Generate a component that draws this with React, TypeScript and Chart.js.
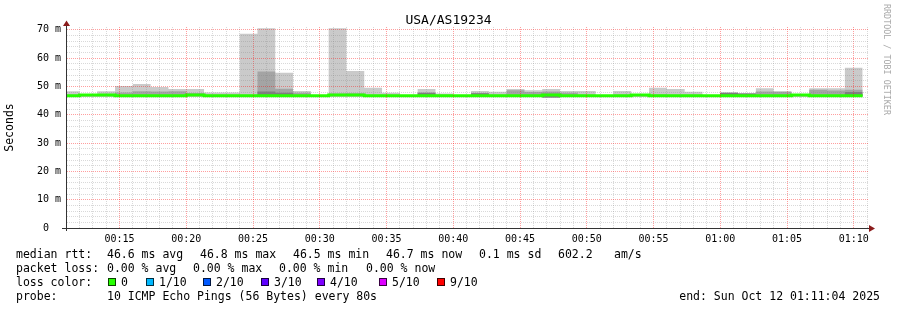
import React, { useEffect, useRef } from "react";
import { Chart, registerables } from "chart.js";

Chart.register(...registerables);

// ---------- data ----------
const titleText = "USA/AS19234";
const yAxisTitle = "Seconds";
const watermark = "RRDTOOL / TOBI OETIKER";

const axisStart = "00:11:04";
const axisEnd = "01:11:04";

// start time of every 80 s bin
const binStarts = [
  "00:10:40", "00:12:00", "00:13:20", "00:14:40", "00:16:00", "00:17:20", "00:18:40", "00:20:00", "00:21:20", "00:22:40",
  "00:24:00", "00:25:20", "00:26:40", "00:28:00", "00:29:20", "00:30:40", "00:32:00", "00:33:20", "00:34:40", "00:36:00",
  "00:37:20", "00:38:40", "00:40:00", "00:41:20", "00:42:40", "00:44:00", "00:45:20", "00:46:40", "00:48:00", "00:49:20",
  "00:50:40", "00:52:00", "00:53:20", "00:54:40", "00:56:00", "00:57:20", "00:58:40", "01:00:00", "01:01:20", "01:02:40",
  "01:04:00", "01:05:20", "01:06:40", "01:08:00", "01:09:20",
];
const lastBinEnd = "01:10:40";

// median rtt (ms)
const medianRtt = [
  46.75, 46.95, 46.95, 46.75, 46.75, 46.75, 46.75, 46.95, 46.75, 46.75,
  46.75, 46.75, 46.75, 46.75, 46.7, 46.95, 46.95, 46.75, 46.75, 46.7,
  46.75, 46.75, 46.7, 46.75, 46.75, 46.75, 46.75, 46.95, 46.75, 46.75,
  46.7, 46.75, 46.95, 46.75, 46.75, 46.75, 46.7, 46.75, 46.75, 46.75,
  46.75, 46.95, 46.75, 46.75, 46.75,
];
// lowest ping (ms)
const smokeMin = [
  46.5, 46.5, 46.5, 46.5, 46.5, 46.5, 46.5, 46.5, 46.5, 46.5,
  46.5, 46.5, 46.5, 46.5, 46.5, 46.5, 46.5, 46.5, 46.5, 46.5,
  46.5, 46.5, 46.5, 46.5, 46.5, 46.5, 46.5, 46.1, 46.5, 46.5,
  46.5, 46.5, 46.5, 46.5, 46.5, 46.5, 46.5, 46.5, 46.5, 46.5,
  46.5, 46.5, 46.5, 46.5, 46.5,
];
// highest ping (ms) - outer smoke
const smokeMax = [
  48.3, 47.3, 48.3, 50.2, 50.9, 49.8, 49.1, 49.1, 47.9, 47.9,
  68.6, 70.6, 54.8, 48.4, 46.9, 70.6, 55.5, 49.5, 47.8, 46.9,
  49.1, 47.5, 46.9, 48.4, 48.1, 49.1, 48.7, 49.1, 48.4, 48.4,
  46.9, 48.4, 47.0, 49.5, 49.1, 48.1, 46.9, 47.8, 47.5, 49.4,
  48.4, 47.0, 49.4, 49.4, 56.6,
];
// second band upper edge (ms)
const smokeMid = [
  47.1, 47.0, 47.1, 47.9, 48.3, 48.2, 48.3, 47.7, 47.1, 47.1,
  47.1, 55.3, 49.2, 47.8, 46.8, 47.5, 47.6, 47.1, 47.1, 46.8,
  47.8, 47.1, 46.8, 47.6, 47.1, 48.7, 48.0, 48.2, 47.8, 47.1,
  46.8, 47.1, 46.9, 47.2, 47.1, 47.1, 46.8, 47.8, 47.5, 48.2,
  48.0, 46.9, 48.8, 48.6, 48.8,
];
// third band upper edge (ms)
const smokeInner = [
  46.9, 46.9, 46.9, 46.9, 46.9, 46.9, 46.9, 46.9, 46.9, 46.9,
  46.9, 48.2, 47.8, 46.9, 46.8, 46.9, 46.9, 46.9, 46.9, 46.8,
  47.8, 46.9, 46.8, 47.6, 46.9, 46.9, 46.9, 47.4, 46.9, 46.9,
  46.8, 46.9, 46.9, 46.9, 46.9, 46.9, 46.8, 47.8, 47.5, 46.9,
  46.9, 46.9, 46.9, 46.9, 48.0,
];

const xTickMinutes = [15, 20, 25, 30, 35, 40, 45, 50, 55, 60, 65, 70];
const xTickLabels = ["00:15", "00:20", "00:25", "00:30", "00:35", "00:40", "00:45", "00:50", "00:55", "01:00", "01:05", "01:10"];
const yTickValues = [0, 10, 20, 30, 40, 50, 60, 70];
const yTickLabels = ["0  ", "10 m", "20 m", "30 m", "40 m", "50 m", "60 m", "70 m"];

const rttLabel = "median rtt:";
const rttStats = ["46.6 ms avg", "46.8 ms max", "46.5 ms min", "46.7 ms now", "0.1 ms sd", "602.2", "am/s"];
const lossLabel = "packet loss:";
const lossStats = ["0.00 % avg", "0.00 % max", "0.00 % min", "0.00 % now"];
const colorLabel = "loss color:";
const lossLabels = ["0", "1/10", "2/10", "3/10", "4/10", "5/10", "9/10"];
const lossColors = ["#26ff00", "#00b8ff", "#0059ff", "#5e00ff", "#7e00ff", "#dd00ff", "#ff0000"];
const probeLabel = "probe:";
const probeText = "10 ICMP Echo Pings (56 Bytes) every 80s";
const endText = "end: Sun Oct 12 01:11:04 2025";

// ---------- helpers ----------
const toMinutes = (s: string) => {
  const [h, m, sec] = s.split(":").map(Number);
  return h * 60 + m + sec / 60;
};

const FONT = "'DejaVu Sans Mono', monospace";
const MAJOR = "rgba(255,0,0,0.38)";
const MINOR = "rgba(128,128,128,0.3)";

const isMultiple = (v: number, step: number) => Math.abs(v / step - Math.round(v / step)) < 1e-6;

const axesPlugin = {
  id: "rrdAxes",
  afterDraw(chart: any) {
    const { ctx, chartArea } = chart;
    const { left, right, top, bottom } = chartArea;
    ctx.save();
    ctx.setLineDash([]);
    ctx.strokeStyle = "#333333";
    ctx.lineWidth = 1;
    ctx.beginPath();
    ctx.moveTo(left - 5, bottom + 0.5);
    ctx.lineTo(right + 2, bottom + 0.5);
    ctx.moveTo(left - 0.5, bottom + 3);
    ctx.lineTo(left - 0.5, top - 1);
    ctx.stroke();
    ctx.fillStyle = "#8b1c1c";
    ctx.beginPath();
    ctx.moveTo(right + 1, bottom - 3);
    ctx.lineTo(right + 7, bottom + 0.5);
    ctx.lineTo(right + 1, bottom + 4);
    ctx.closePath();
    ctx.fill();
    ctx.beginPath();
    ctx.moveTo(left - 4, top - 1);
    ctx.lineTo(left - 0.5, top - 6.5);
    ctx.lineTo(left + 3, top - 1);
    ctx.closePath();
    ctx.fill();
    ctx.restore();
  },
};

export default function App() {
  const canvasRef = useRef<HTMLCanvasElement | null>(null);

  useEffect(() => {
    if (!canvasRef.current) return;
    const xs = binStarts.map(toMinutes);
    const xEnd = toMinutes(lastBinEnd);
    const stepSeries = (vals: number[]) => [
      ...xs.map((x, i) => ({ x, y: vals[i] })),
      { x: xEnd, y: vals[vals.length - 1] },
    ];
    const smokeDs = (vals: number[], color: string, order: number) => ({
      label: "smoke",
      data: stepSeries(vals),
      stepped: "before",
      borderWidth: 0,
      borderColor: "rgba(0,0,0,0)",
      backgroundColor: color,
      pointRadius: 0,
      fill: 4,
      order,
      clip: 0,
    });

    const chart = new Chart(canvasRef.current, {
      type: "line",
      data: {
        datasets: [
          {
            label: "median rtt",
            data: stepSeries(medianRtt),
            stepped: "before",
            borderColor: "#26ff00",
            borderWidth: 3,
            pointRadius: 0,
            fill: false,
            order: 0,
            clip: 0,
          } as any,
          smokeDs(smokeMax, "#cacaca", 3) as any,
          smokeDs(smokeMid, "#a4a4a4", 2) as any,
          smokeDs(smokeInner, "#7e7e7e", 1) as any,
          {
            label: "min",
            data: stepSeries(smokeMin),
            stepped: "before",
            borderWidth: 0,
            borderColor: "rgba(0,0,0,0)",
            pointRadius: 0,
            fill: false,
            order: 4,
            clip: 0,
          } as any,
        ],
      },
      options: {
        responsive: false,
        animation: false,
        devicePixelRatio: 1,
        events: [],
        layout: { padding: { top: 27, right: 29, bottom: 0, left: 0 } },
        plugins: {
          legend: { display: false },
          tooltip: { enabled: false },
          title: { display: false },
        },
        scales: {
          x: {
            type: "linear",
            min: toMinutes(axisStart),
            max: toMinutes(axisEnd),
            offset: false,
            afterBuildTicks: (s: any) => {
              const t: any[] = [];
              for (let v = Math.ceil(s.min); v <= Math.floor(s.max); v++) t.push({ value: v });
              s.ticks = t;
            },
            afterFit: (s: any) => {
              s.height = 82;
            },
            grid: {
              drawTicks: false,
              lineWidth: 1,
              z: 1,
              color: (c: any) => (c.tick && isMultiple(Number(c.tick.value), 5) ? MAJOR : MINOR),
            },
            border: { display: false, dash: [1, 1] },
            ticks: {
              autoSkip: false,
              maxRotation: 0,
              minRotation: 0,
              padding: 5,
              color: "#000",
              font: { family: FONT, size: 10 },
              callback: (v: any) => {
                const i = xTickMinutes.findIndex((m) => Math.abs(m - Number(v)) < 1e-6);
                return i >= 0 ? xTickLabels[i] : "";
              },
            },
          },
          y: {
            type: "linear",
            min: 0,
            max: 71,
            afterBuildTicks: (s: any) => {
              const t: any[] = [];
              for (let v = 0; v <= 70; v += 2) t.push({ value: v });
              s.ticks = t;
            },
            afterFit: (s: any) => {
              s.width = 67;
            },
            grid: {
              drawTicks: false,
              lineWidth: 1,
              z: 1,
              color: (c: any) => (c.tick && isMultiple(Number(c.tick.value), 10) ? MAJOR : MINOR),
            },
            border: { display: false, dash: [1, 1] },
            title: {
              display: true,
              text: yAxisTitle,
              color: "#000",
              font: { family: FONT, size: 11.5, weight: "normal" },
              padding: { top: 3, bottom: 0 },
            },
            ticks: {
              autoSkip: false,
              padding: 6,
              color: "#000",
              font: { family: FONT, size: 10 },
              callback: (v: any) => {
                const i = yTickValues.indexOf(Number(v));
                return i >= 0 ? yTickLabels[i] : "";
              },
            },
          },
        },
      } as any,
      plugins: [axesPlugin],
    });
    return () => chart.destroy();
  }, []);

  const textStyle = (x: number, baseline: number): React.CSSProperties => ({
    position: "absolute",
    left: x,
    top: baseline - 11,
    font: `11.5px ${FONT}`,
    lineHeight: "14px",
    whiteSpace: "pre",
    color: "#000",
  });

  const rttX = [107, 200, 293, 386, 479, 558, 614];
  const lossX = [107, 193, 279, 366];
  const squareX = [108, 146, 203, 260.7, 317, 379, 436.7];

  return (
    <div style={{ position: "absolute", left: 0, top: 0, width: 897, height: 310, background: "#fff", overflow: "hidden" }}>
      <canvas ref={canvasRef} width={897} height={310} style={{ display: "block", width: 897, height: 310 }} />
      <div
        style={{
          position: "absolute",
          left: 0,
          top: 12,
          width: 897,
          textAlign: "center",
          font: `13px ${FONT}`,
          lineHeight: "15px",
          color: "#000",
        }}
      >
        {titleText}
      </div>
      <div
        style={{
          position: "absolute",
          left: 892,
          top: 4,
          transformOrigin: "0 0",
          transform: "rotate(90deg)",
          font: `8.4px ${FONT}`,
          lineHeight: "10px",
          whiteSpace: "pre",
          color: "#a8a8a8",
        }}
      >
        {watermark}
      </div>

      <div style={textStyle(16, 258)}>{rttLabel}</div>
      {rttStats.map((s, i) => (
        <div key={"r" + i} style={textStyle(rttX[i], 258)}>{s}</div>
      ))}

      <div style={textStyle(16, 272)}>{lossLabel}</div>
      {lossStats.map((s, i) => (
        <div key={"l" + i} style={textStyle(lossX[i], 272)}>{s}</div>
      ))}

      <div style={textStyle(16, 286)}>{colorLabel}</div>
      {lossLabels.map((s, i) => (
        <React.Fragment key={"c" + i}>
          <div
            style={{
              position: "absolute",
              left: Math.round(squareX[i]),
              top: 278,
              width: 8,
              height: 8,
              boxSizing: "border-box",
              border: "1px solid rgba(0,0,0,0.75)",
              background: lossColors[i],
            }}
          />
          <div style={textStyle(Math.round(squareX[i]) + 13, 286)}>{s}</div>
        </React.Fragment>
      ))}

      <div style={textStyle(16, 300)}>{probeLabel}</div>
      <div style={textStyle(107, 300)}>{probeText}</div>
      <div style={{ ...textStyle(0, 300), left: undefined, right: 897 - 880, textAlign: "right" }}>{endText}</div>
    </div>
  );
}
